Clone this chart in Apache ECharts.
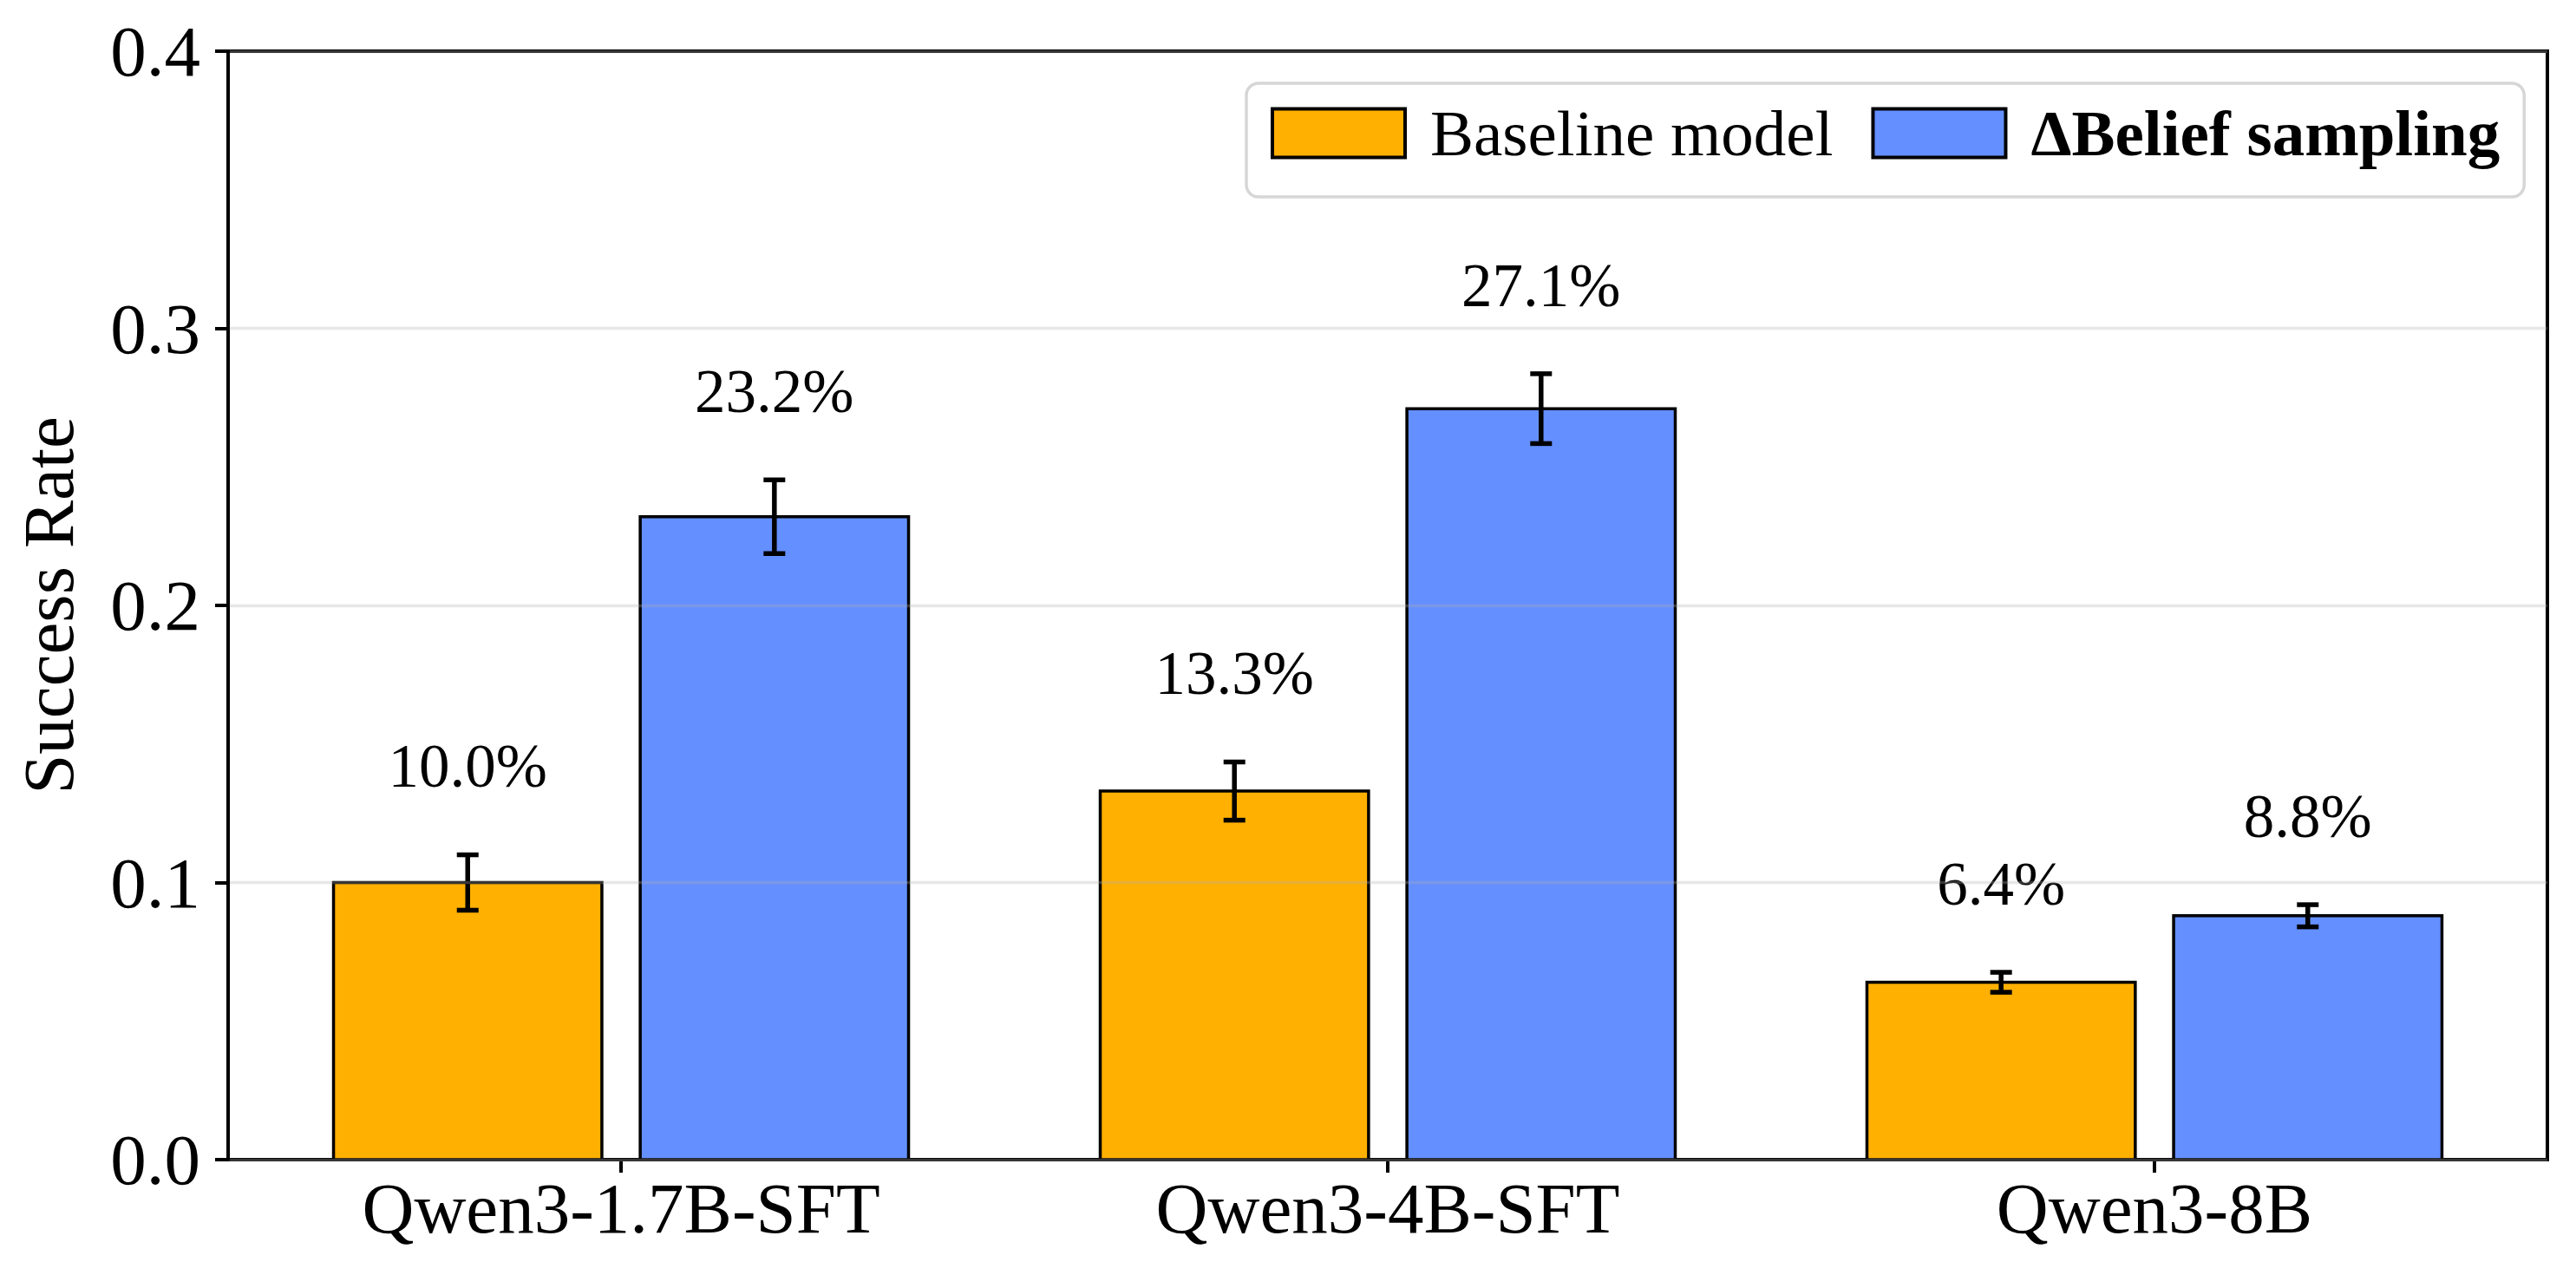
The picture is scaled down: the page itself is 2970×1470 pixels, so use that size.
<!DOCTYPE html>
<html>
<head>
<meta charset="utf-8">
<script src="https://cdn.jsdelivr.net/npm/echarts@6/dist/echarts.min.js"></script>
<style>
html, body { margin: 0; padding: 0; background: #ffffff; }
#chart { width: 2970px; height: 1470px; }
</style>
</head>
<body>
<div id="chart"></div>
<script>
// ---- data ----
const categories = ['Qwen3-1.7B-SFT', 'Qwen3-4B-SFT', 'Qwen3-8B'];
const seriesNames = ['Baseline model', '\u0394Belief sampling'];
const baselineValues = [0.100, 0.133, 0.064];
const baselineErrors = [0.0100, 0.0105, 0.0036];
const beliefValues = [0.232, 0.271, 0.088];
const beliefErrors = [0.0133, 0.0126, 0.0040];
const yTicks = [0.0, 0.1, 0.2, 0.3, 0.4];

const FONT = "'Liberation Serif', 'Times New Roman', serif";
const colors = ['#FFB000', '#648FFF'];
const barWidth = 0.35;
const offsets = [-0.2, 0.2];

function makeRows(vals, errs) {
  return vals.map((v, i) => [i, v, errs[i]]);
}

function makeRender(offset, color) {
  return function (params, api) {
    const x = api.value(0) + offset;
    const v = api.value(1);
    const e = api.value(2);
    const tl = api.coord([x - barWidth / 2, v]);
    const br = api.coord([x + barWidth / 2, 0]);
    const eTop = api.coord([x, v + e]);
    const eBot = api.coord([x, v - e]);
    const lab = api.coord([x, v + e + 0.032]);
    const cap = 12.5;
    return {
      type: 'group',
      children: [
        {
          type: 'rect',
          shape: { x: tl[0], y: tl[1], width: br[0] - tl[0], height: br[1] - tl[1] },
          style: { fill: color, stroke: '#000000', lineWidth: 3.5 }
        },
        {
          type: 'line',
          shape: { x1: eTop[0], y1: eTop[1], x2: eBot[0], y2: eBot[1] },
          style: { stroke: '#000000', lineWidth: 5.5 }
        },
        {
          type: 'line',
          shape: { x1: eTop[0] - cap, y1: eTop[1], x2: eTop[0] + cap, y2: eTop[1] },
          style: { stroke: '#000000', lineWidth: 5.5 }
        },
        {
          type: 'line',
          shape: { x1: eBot[0] - cap, y1: eBot[1], x2: eBot[0] + cap, y2: eBot[1] },
          style: { stroke: '#000000', lineWidth: 5.5 }
        },
        {
          type: 'text',
          style: {
            text: (v * 100).toFixed(1) + '%',
            x: lab[0], y: lab[1],
            fill: '#000000',
            font: '71px ' + FONT,
            align: 'center', verticalAlign: 'middle',
            textAlign: 'center', textVerticalAlign: 'middle'
          }
        }
      ]
    };
  };
}

const chart = echarts.init(document.getElementById('chart'), null, { renderer: 'svg' });

chart.setOption({
  backgroundColor: '#ffffff',
  animation: false,
  textStyle: { fontFamily: FONT, color: '#000000' },
  grid: {
    left: 263, right: 33, top: 59, bottom: 133,
    show: true, borderColor: '#000000', borderWidth: 4, backgroundColor: 'transparent'
  },
  legend: {
    left: 1437, top: 96,
    orient: 'horizontal',
    padding: [20, 28, 36, 28],
    backgroundColor: '#ffffff',
    borderColor: '#d6d6d6',
    borderWidth: 3.5,
    borderRadius: 14,
    itemWidth: 153,
    itemHeight: 56,
    itemGap: 44,
    itemStyle: { borderColor: '#000000', borderWidth: 4 },
    textStyle: { fontFamily: FONT, fontSize: 75, color: '#000000', lineHeight: 72, padding: [0, 0, 0, 24] },
    data: [
      { name: seriesNames[0], icon: 'rect' },
      { name: seriesNames[1], icon: 'rect', textStyle: { fontWeight: 'bold' } }
    ]
  },
  xAxis: {
    type: 'value',
    min: -0.5125,
    max: 2.5125,
    axisLine: { show: false, onZero: false },
    splitLine: { show: false },
    axisTick: {
      show: true, length: 15, inside: false,
      customValues: [0, 1, 2],
      lineStyle: { color: '#000000', width: 4 }
    },
    axisLabel: {
      customValues: [0, 1, 2],
      formatter: function (v) { return categories[Math.round(v)]; },
      fontFamily: FONT, fontSize: 83, color: '#000000', margin: 14
    }
  },
  yAxis: {
    type: 'value',
    min: 0, max: 0.4, interval: 0.1,
    z: 5,
    name: 'Success Rate',
    nameLocation: 'middle',
    nameRotate: 90,
    nameGap: 166,
    nameTextStyle: { fontFamily: FONT, fontSize: 83, color: '#000000' },
    axisLine: { show: true, onZero: false, lineStyle: { color: '#000000', width: 4 } },
    axisTick: { show: true, length: 15, inside: false, lineStyle: { color: '#000000', width: 4 } },
    axisLabel: {
      formatter: function (v) {
        const t = yTicks.find(function (k) { return Math.abs(k - v) < 1e-9; });
        return (t === undefined ? v : t).toFixed(1);
      },
      fontFamily: FONT, fontSize: 83, color: '#000000', margin: 32
    },
    splitLine: { show: true, lineStyle: { color: 'rgba(176,176,176,0.3)', width: 3.3 } }
  },
  series: [
    {
      name: seriesNames[0],
      type: 'custom',
      z: 2,
      itemStyle: { color: colors[0], borderColor: '#000000', borderWidth: 4 },
      encode: { x: 0, y: 1 },
      data: makeRows(baselineValues, baselineErrors),
      renderItem: makeRender(offsets[0], colors[0])
    },
    {
      name: seriesNames[1],
      type: 'custom',
      z: 2,
      itemStyle: { color: colors[1], borderColor: '#000000', borderWidth: 4 },
      encode: { x: 0, y: 1 },
      data: makeRows(beliefValues, beliefErrors),
      renderItem: makeRender(offsets[1], colors[1])
    }
  ]
});
</script>
</body>
</html>
